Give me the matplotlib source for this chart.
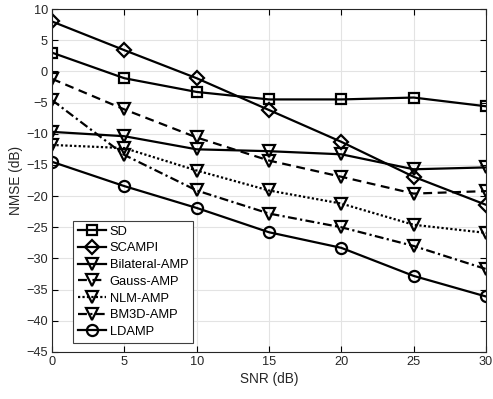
import matplotlib
matplotlib.use("Agg")
import matplotlib.pyplot as plt

plt.rcParams['font.family'] = ['Liberation Sans', 'DejaVu Sans']

snr = [0, 5, 10, 15, 20, 25, 30]
sd = [3.0, -1.1, -3.3, -4.5, -4.5, -4.2, -5.6]
scampi = [8.0, 3.4, -1.1, -6.2, -11.3, -16.9, -21.4]
bilateral = [-9.7, -10.4, -12.5, -12.8, -13.3, -15.7, -15.4]
gauss = [-1.2, -6.1, -10.6, -14.3, -16.9, -19.6, -19.2]
nlm = [-11.8, -12.3, -15.9, -19.1, -21.2, -24.6, -25.9]
bm3d = [-4.6, -13.4, -19.1, -22.8, -25.0, -28.0, -31.7]
ldamp = [-14.5, -18.4, -21.9, -25.8, -28.3, -32.8, -36.1]

series = [
    ("SD", sd, 's', '-'),
    ("SCAMPI", scampi, 'D', '-'),
    ("Bilateral-AMP", bilateral, 'v', '-'),
    ("Gauss-AMP", gauss, 'v', (0, (4, 2.5))),
    ("NLM-AMP", nlm, 'v', (0, (1, 1))),
    ("BM3D-AMP", bm3d, 'v', (0, (4, 1.5, 1, 1.5))),
    ("LDAMP", ldamp, 'o', '-'),
]
msizes = {'s': 7, 'D': 7, 'v': 8.5, 'o': 8}

fig = plt.figure(figsize=(4.93, 3.99), dpi=100)
ax = fig.add_axes([52/493, 1-352/399, 434/493, 343/399])

for name, vals, mk, ls in series:
    ax.plot(snr, vals, linestyle=ls, color='black', linewidth=1.6,
            marker=mk, markersize=msizes[mk], markerfacecolor='none',
            markeredgecolor='black', markeredgewidth=1.6, label=name)

ax.set_xlim(0, 30)
ax.set_ylim(-45, 10)
ax.set_xticks(range(0, 31, 5))
ax.set_yticks(range(-45, 11, 5))
ax.grid(True, color='#e3e3e3', linewidth=0.8)
ax.set_axisbelow(True)
ax.tick_params(direction='in', length=4, width=0.8, top=True, right=True,
               labelsize=9.2, colors='black', labelcolor='#262626', pad=3)
for sp in ax.spines.values():
    sp.set_linewidth(0.8)
    sp.set_color('#262626')
ax.set_xlabel("SNR (dB)", fontsize=9.8, color='#262626', labelpad=3)
ax.set_ylabel("NMSE (dB)", fontsize=9.8, color='#262626', labelpad=2)

leg = ax.legend(loc='lower left', bbox_to_anchor=(0.048, 0.026, 0.277, 0.367),
                mode='expand', fontsize=9.3, handlelength=2.2, handletextpad=0.25,
                labelspacing=0.36, borderpad=0.4, borderaxespad=0,
                fancybox=False, framealpha=1, edgecolor='#404040')
leg.get_frame().set_linewidth(0.8)

fig.savefig("out.png", dpi=100)
